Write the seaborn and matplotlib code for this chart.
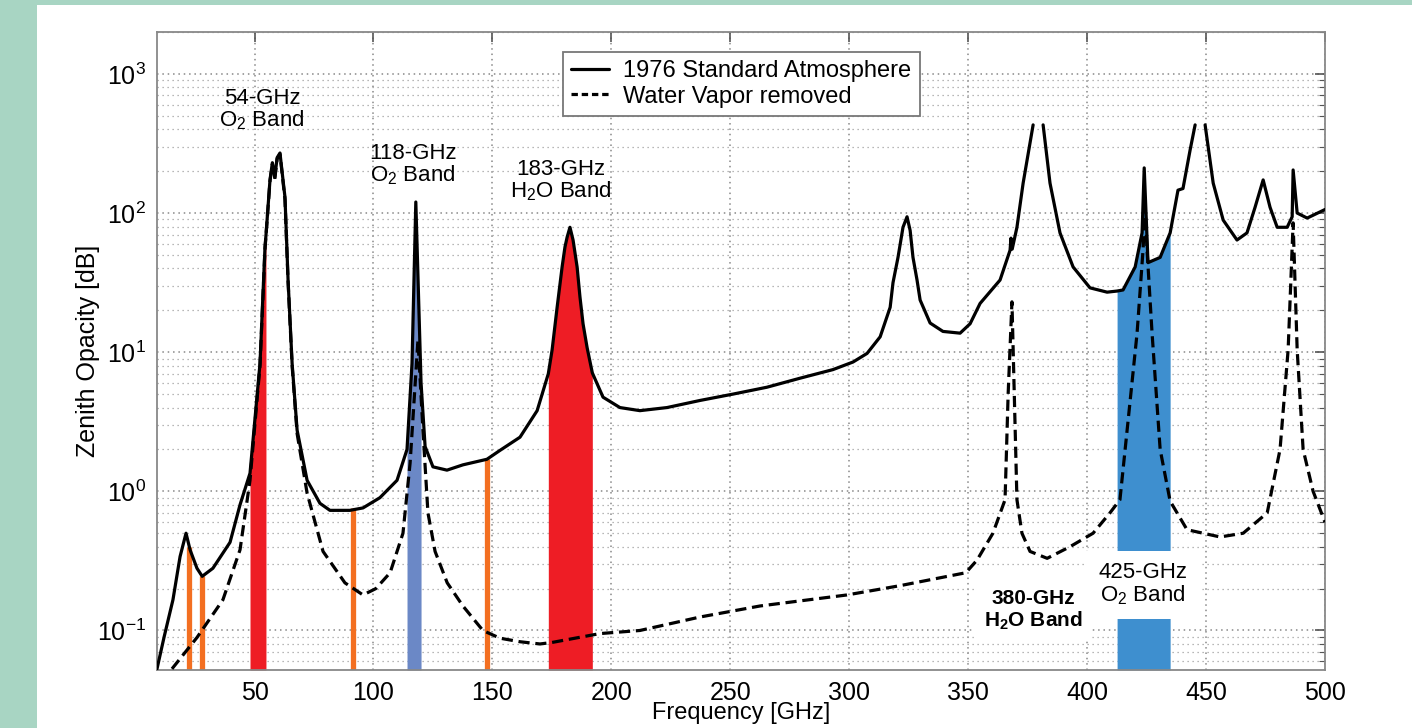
import numpy as np
import pandas as pd
import matplotlib
matplotlib.use("Agg")
import matplotlib.pyplot as plt
from matplotlib import font_manager
from matplotlib.lines import Line2D
from matplotlib.patches import Rectangle
from matplotlib.ticker import LogLocator, NullFormatter
import seaborn as sns

# Data (GHz, dB)
solid_freq = [9, 12, 15.7, 18.7, 21.2, 22.9, 25.8, 28, 32.5, 39.7,
              43.9, 48.1, 52.3, 54.4, 54.8, 56.5, 57.5, 58.5, 59.5, 60.7,
              61.7, 62.8, 64.1, 65.8, 67.9, 72.1, 77.5, 81.7, 90.1, 95.6,
              102.7, 109.9, 114.1, 116.2, 117.8, 120.0, 121.7, 125.0, 130.9, 137.6,
              147.7, 153.2, 161.6, 168.8, 173.5, 175.1, 177.2, 179.3, 180.5, 181.4,
              182.6, 183.9, 185.6, 186.8, 188.1, 189.8, 192.0, 196.5, 203.6, 212,
              223.4, 237.3, 251.2, 265.4, 279.3, 293.2, 301.6, 307.5, 313, 317.2,
              318.4, 320.5, 322.6, 324.3, 325.6, 326.8, 328.5, 329.8, 334, 339.4,
              346.6, 350.8, 355, 363.4, 367.6, 368.0, 368.5, 370.5, 373.1, 377.3,
              379.4, 381.5, 384.4, 388.6, 394.1, 401.2, 408.4, 412.6, 415.1, 420.2,
              423.1, 424.0, 425.6, 430.7, 434.9, 438.2, 440.3, 443.3, 445.4, 447.5,
              449.6, 453, 457.2, 463, 467.2, 470.6, 474, 476.9, 479.9, 484.1,
              486.2, 486.6, 488.3, 492.5, 500]
solid_db = [0.053, 0.09, 0.166, 0.34, 0.5, 0.38, 0.28, 0.245, 0.28, 0.43,
            0.8, 1.35, 8.3, 57, 69, 173, 230, 180, 250, 270,
            190, 130, 33, 8.3, 2.75, 1.2, 0.82, 0.73, 0.73, 0.76,
            0.9, 1.2, 2.0, 8.3, 120, 6.0, 2.1, 1.5, 1.42, 1.55,
            1.7, 1.97, 2.45, 3.8, 7.0, 10.4, 21, 41, 57, 67,
            79, 64, 41, 25, 16, 10.8, 7.1, 4.75, 4.0, 3.8,
            4.0, 4.5, 5.0, 5.6, 6.5, 7.5, 8.5, 9.8, 12.9, 21,
            31.6, 48, 79, 94, 75, 48, 33, 23.7, 16.2, 14.1,
            13.7, 16, 22.4, 33, 54, 66, 55, 79, 164, 430,
            np.nan, 430, 164, 72, 41, 29, 27, 27.5, 28, 41,
            72, 211, 44, 48, 72, 146, 150, 284, 430, np.nan,
            430, 164, 89, 64, 72, 110, 173, 110, 79, 79,
            94, 204, 100, 92, 106]

dry_freq = [15.3, 25.8, 36.7, 43.9, 48.1, 52.3, 54.4, 56.5, 57.5, 58.5,
            59.5, 60.7, 61.7, 62.8, 64.1, 65.8, 67.9, 72.1, 76.3, 78.8,
            88.0, 95.6, 101, 107, 112.4, 115.4, 118.7, 120.8, 122.9, 125.9,
            131, 137.6, 146, 153.2, 161.6, 170, 175, 195.2, 212, 237.3,
            262.5, 299, 321.4, 349, 353.7, 360.4, 365.5, 366.8, 368.4, 370.5,
            372.6, 376, 383.2, 392.8, 402.5, 409.6, 413.8, 418.1, 421, 423.5,
            424.4, 425.2, 427.3, 430.7, 434.9, 442, 455.9, 465.6, 475.7, 481.1,
            484.5, 486.6, 488.3, 490.8, 495, 500]
dry_db = [0.053, 0.089, 0.166, 0.38, 1.2, 8.0, 55, 170, 225, 175,
          245, 265, 185, 125, 32, 8.0, 2.6, 0.97, 0.53, 0.37,
          0.22, 0.18, 0.2, 0.26, 0.5, 1.6, 12.2, 2.75, 0.7, 0.37,
          0.22, 0.15, 0.1, 0.088, 0.083, 0.08, 0.082, 0.095, 0.1, 0.125,
          0.15, 0.18, 0.21, 0.26, 0.32, 0.5, 0.87, 5.0, 23, 0.87,
          0.5, 0.37, 0.33, 0.40, 0.5, 0.70, 0.87, 4.5, 13.7, 54,
          110, 54, 13.7, 2.0, 0.85, 0.53, 0.47, 0.5, 0.70, 2.0,
          10.4, 85, 10.4, 2.0, 1.0, 0.6]

band_lo = [48.1, 114.1, 173.5, 412.6]
band_hi = [54.8, 120.0, 192.0, 434.9]
band_colors = ["#ee1d25", "#6b88c6", "#ee1d25", "#3e8fcf"]

orange_freq = [22.5, 28.0, 91.4, 147.7]
orange_top = [0.40, 0.245, 0.76, 1.7]

legend_labels = ["1976 Standard Atmosphere", "Water Vapor removed"]
band_text = ["54-GHz\nO$_\\mathregular{2}$ Band", "118-GHz\nO$_\\mathregular{2}$ Band",
             "183-GHz\nH$_\\mathregular{2}$O Band", "425-GHz\nO$_\\mathregular{2}$ Band"]
band_text_x = [53.1, 116.6, 178.8, 423.5]
band_text_y = [550, 221, 170, 0.214]

YBOT, YTOP = 0.052, 2000

sns.set_theme(style="white")
names = {f.name for f in font_manager.fontManager.ttflist}
narrow = "Liberation Sans Narrow" if "Liberation Sans Narrow" in names else "Liberation Sans"
plt.rcParams["font.family"] = [narrow, "DejaVu Sans"]
plt.rcParams["mathtext.fontset"] = "custom"
plt.rcParams["mathtext.rm"] = narrow
plt.rcParams["mathtext.it"] = narrow + ":italic"
plt.rcParams["mathtext.bf"] = narrow + ":bold"
for key in ["text.color", "axes.labelcolor", "xtick.labelcolor", "ytick.labelcolor"]:
    plt.rcParams[key] = "black"

fig = plt.figure(figsize=(14.12, 7.28), dpi=100, facecolor="#a8d5c3")
fig.add_artist(Rectangle((37 / 1412, 0), 1, 723 / 728, transform=fig.transFigure,
                         facecolor="white", edgecolor="none", zorder=-10))
ax = fig.add_axes([157 / 1412, 58 / 728, 1168 / 1412, 638 / 728])
ax.set_yscale("log")
ax.set_axisbelow(True)

# coloured bands under the standard-atmosphere curve
f = np.array(solid_freq)
s = np.array(solid_db)
for lo, hi, col in zip(band_lo, band_hi, band_colors):
    m = (f >= lo) & (f <= hi)
    ax.fill_between(f[m], YBOT, s[m], color=col, lw=0, zorder=1.5)
ax.vlines(orange_freq, YBOT, orange_top, color="#f36f21", lw=3.8, zorder=1.6)

# curves
solid = pd.DataFrame({"freq": solid_freq, "db": solid_db})
solid["seg"] = solid["db"].isna().cumsum()
solid = solid.dropna()
sns.lineplot(data=solid, x="freq", y="db", units="seg", estimator=None, sort=False,
             color="black", lw=2.3, ax=ax, legend=False, zorder=3)
dash = (0, (3.5, 1.8))
sns.lineplot(x=dry_freq, y=dry_db, estimator=None, sort=False, color="black", lw=2.3,
             linestyle=dash, ax=ax, legend=False, zorder=3)

ax.set_xlim(9, 500)
ax.set_ylim(YBOT, YTOP)
ax.set_xticks(range(50, 501, 50))
ax.yaxis.set_major_locator(LogLocator(base=10, numticks=10))
ax.yaxis.set_minor_locator(LogLocator(base=10, subs=np.arange(2, 10), numticks=40))
ax.yaxis.set_minor_formatter(NullFormatter())
ax.tick_params(which="both", direction="in", top=True, right=True, color="#555555")
ax.tick_params(which="major", length=7, width=1.2, labelsize=18, pad=8)
ax.tick_params(which="minor", length=4, width=0.8)
ax.grid(which="major", axis="both", ls=(0, (1, 2.5)), color="#888888", lw=1.1)
ax.grid(which="minor", axis="y", ls=(0, (1, 3)), color="#a0a0a0", lw=0.9)
for sp in ax.spines.values():
    sp.set_color("#888888")
    sp.set_linewidth(1.3)

ax.set_xlabel("Frequency [GHz]", fontsize=17, labelpad=-2)
ax.set_ylabel("Zenith Opacity [dB]", fontsize=18)
ax.yaxis.set_label_coords(-0.0488, 0.5)

handles = [Line2D([], [], color="black", lw=2.3), Line2D([], [], color="black", lw=2.3, ls=(0, (2, 1.2)))]
leg = ax.legend(handles, legend_labels, loc="upper left", bbox_to_anchor=(0.3476, 0.969),
                borderaxespad=0, fancybox=False, framealpha=1, edgecolor="#777777",
                fontsize=17, handlelength=1.6, handletextpad=0.6, labelspacing=0.15,
                borderpad=0.35)
leg.get_frame().set_linewidth(1.3)

for i, (txt, tx, ty) in enumerate(zip(band_text, band_text_x, band_text_y)):
    box = dict(boxstyle="square,pad=0.55", fc="white", ec="none") if i == 3 else None
    ax.text(tx, ty, txt, ha="center", va="center", fontsize=16, linespacing=1.0,
            bbox=box, zorder=4)
ax.text(377.3, 0.139, "380-GHz\nH$_\\mathbf{2}$O Band", ha="center", va="center",
        fontsize=15, fontweight="bold", family=["Liberation Sans", "DejaVu Sans"],
        linespacing=1.1, bbox=dict(boxstyle="square,pad=0.45", fc="white", ec="none"), zorder=4)

fig.savefig("out.png", dpi=100, facecolor=fig.get_facecolor())
